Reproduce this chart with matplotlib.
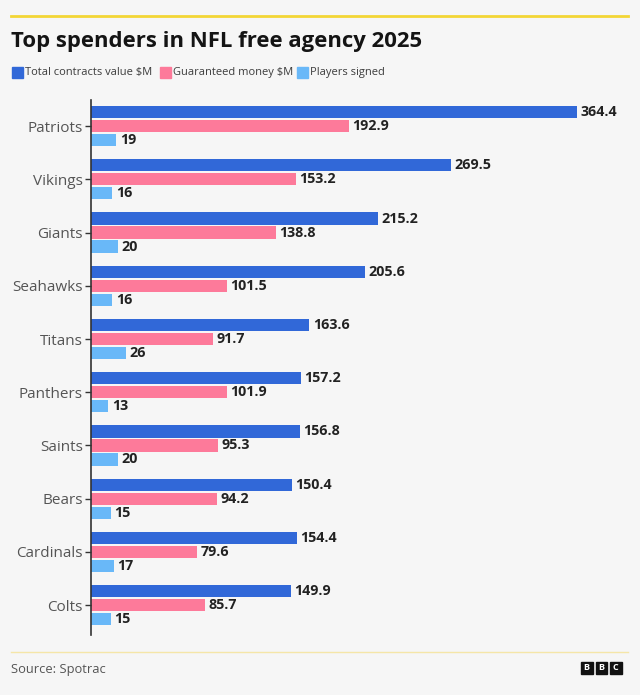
import matplotlib.pyplot as plt
from matplotlib.patches import Rectangle

plt.rcParams['font.family'] = ['Open Sans', 'DejaVu Sans']

teams = ['Patriots', 'Vikings', 'Giants', 'Seahawks', 'Titans',
         'Panthers', 'Saints', 'Bears', 'Cardinals', 'Colts']
total_value = [364.4, 269.5, 215.2, 205.6, 163.6, 157.2, 156.8, 150.4, 154.4, 149.9]
guaranteed = [192.9, 153.2, 138.8, 101.5, 91.7, 101.9, 95.3, 94.2, 79.6, 85.7]
players = [19, 16, 20, 16, 26, 13, 20, 15, 17, 15]

series_names = ['Total contracts value $M', 'Guaranteed money $M', 'Players signed']
colors = ['#3168d8', '#fd7a9a', '#69b8f8']
bg = '#f6f6f6'

fig = plt.figure(figsize=(6.4, 6.95), dpi=100, facecolor=bg)
W, H = 640, 695

# top yellow rule and title
fig.add_artist(plt.Line2D([11 / W, 628 / W], [1 - 16 / H, 1 - 16 / H], color='#f3d635', lw=2))
fig.text(11 / W, 1 - 42 / H, 'Top spenders in NFL free agency 2025', fontsize=15.9,
         fontweight='bold', color='#141414', va='center')

# legend
leg_x = [12, 160, 297]
for x, name, c in zip(leg_x, series_names, colors):
    fig.add_artist(Rectangle((x / W, 1 - 78 / H), 11 / W, 11 / H, color=c, transform=fig.transFigure))
    fig.text((x + 13) / W, 1 - 72.5 / H, name, fontsize=8, color='#3c3c3c', va='center')

ax = fig.add_axes([91 / W, 1 - 635 / H, 534 / W, 535 / H])
ax.set_facecolor(bg)

y = list(range(len(teams)))
off = 0.263
h = 0.232
series = [total_value, guaranteed, players]
for k, (vals, c) in enumerate(zip(series, colors)):
    pos = [i + (k - 1) * off for i in y]
    ax.barh(pos, vals, height=h, color=c)
    for p, v in zip(pos, vals):
        label = f'{v:g}' if k == 2 else f'{v:.1f}'
        ax.text(v + 2.5, p, label, va='center', ha='left', fontsize=10.3,
                fontweight='bold', color='#222222')

ax.set_xlim(0, 400)
ax.set_ylim(9.56, -0.49)
ax.set_yticks(y)
ax.set_yticklabels(teams, fontsize=11, color='#555555')
ax.set_xticks([])
for s in ['top', 'right', 'bottom']:
    ax.spines[s].set_visible(False)
ax.spines['left'].set_color('#333333')
ax.spines['left'].set_linewidth(1.2)
ax.tick_params(axis='y', length=4, width=1, color='#333333', pad=2)

# footer
fig.add_artist(plt.Line2D([11 / W, 628 / W], [1 - 652 / H, 1 - 652 / H], color='#f5e6a8', lw=1))
fig.text(11 / W, 1 - 670 / H, 'Source: Spotrac', fontsize=9.3, color='#555555', va='center')
for i, letter in enumerate('BBC'):
    x0 = 581 + i * 14.5
    fig.add_artist(Rectangle((x0 / W, 1 - 674 / H), 11.5 / W, 12 / H, color='#111111',
                             transform=fig.transFigure))
    fig.text((x0 + 5.75) / W, 1 - 668 / H, letter, fontsize=6.5, fontweight='bold',
             color='white', ha='center', va='center')

fig.savefig('out.png', dpi=100, facecolor=bg)
